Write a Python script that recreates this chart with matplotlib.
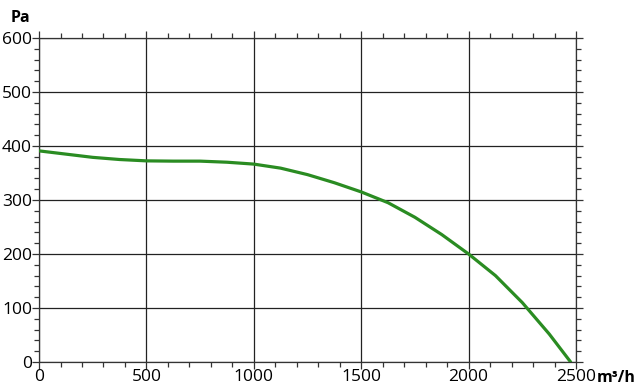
import matplotlib
matplotlib.use("Agg")
import matplotlib.pyplot as plt
from matplotlib.ticker import MultipleLocator

# curve (m3/h, Pa)
flow = [0, 125, 250, 375, 500, 625, 750, 875, 1000, 1125, 1250, 1375,
        1500, 1625, 1750, 1875, 2000, 2125, 2250, 2375, 2475]
pressure = [391, 385, 379, 375, 372.5, 372, 372, 370, 366.5, 359, 347, 332,
            315, 295, 268, 236, 200, 160, 110, 52, 0]

plt.rcParams['font.family'] = ['Open Sans', 'DejaVu Sans']

fig = plt.figure(figsize=(6.4, 3.88), dpi=100)
ax = fig.add_axes([0.061, 0.067, 0.839, 0.835])

ax.plot(flow, pressure, color="#2a8c22", lw=2.3, zorder=3,
        solid_joinstyle="round", solid_capstyle="round")

ax.set_xlim(0, 2500)
ax.set_ylim(0, 600)
ax.xaxis.set_major_locator(MultipleLocator(500))
ax.xaxis.set_minor_locator(MultipleLocator(100))
ax.yaxis.set_major_locator(MultipleLocator(100))
ax.yaxis.set_minor_locator(MultipleLocator(20))
ax.grid(True, which="major", color="#222222", lw=0.9)
ax.tick_params(which="both", direction="out", top=True, right=True,
               labeltop=False, labelright=False, color="#333333",
               labelsize=12.5, pad=0)
ax.tick_params(which="major", length=5, width=0.9)
ax.tick_params(which="minor", length=3.5, width=0.9)
for s in ax.spines.values():
    s.set_color("#333333")
    s.set_linewidth(0.9)

ax.text(-0.017, 1.062, "Pa", transform=ax.transAxes, fontsize=11.5,
        fontweight="bold", ha="right", va="center")
ax.text(1.038, -0.05, "m³/h", transform=ax.transAxes, fontsize=11.5,
        fontweight="bold", ha="left", va="center")

fig.savefig("out.png", dpi=100)
